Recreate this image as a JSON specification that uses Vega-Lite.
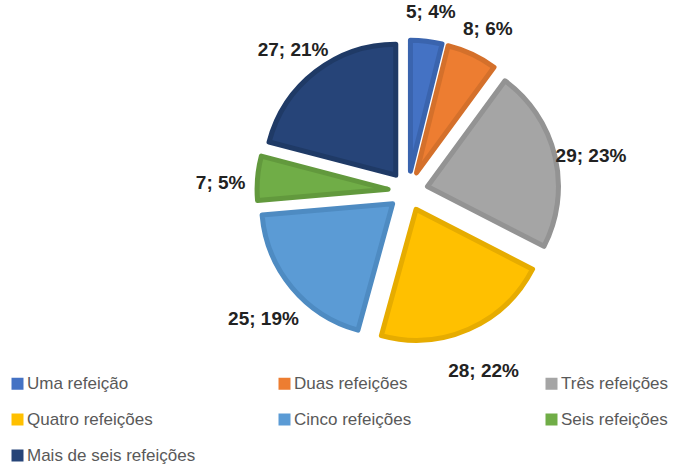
{
  "$schema": "https://vega.github.io/schema/vega-lite/v6.json",
  "width": 556,
  "height": 382,
  "autosize": {"type": "none"},
  "padding": {"left": 130, "top": 0, "right": 0, "bottom": 85},
  "background": "white",
  "config": {"view": {"stroke": null}},
  "data": {
    "values": [
      {"categoria": "Uma refeição", "valor": 5, "rotulo": "5; 4%"},
      {"categoria": "Duas refeições", "valor": 8, "rotulo": "8; 6%"},
      {"categoria": "Três refeições", "valor": 29, "rotulo": "29; 23%"},
      {"categoria": "Quatro refeições", "valor": 28, "rotulo": "28; 22%"},
      {"categoria": "Cinco refeições", "valor": 25, "rotulo": "25; 19%"},
      {"categoria": "Seis refeições", "valor": 7, "rotulo": "7; 5%"},
      {"categoria": "Mais de seis refeições", "valor": 27, "rotulo": "27; 21%"}
    ]
  },
  "transform": [
    {"window": [{"op": "sum", "field": "valor", "as": "acum"}], "frame": [null, 0]},
    {"joinaggregate": [{"op": "sum", "field": "valor", "as": "total"}]},
    {"calculate": "2*PI*(datum.acum - datum.valor)/datum.total", "as": "a0"},
    {"calculate": "2*PI*datum.acum/datum.total", "as": "a1"},
    {"calculate": "(datum.a0 + datum.a1)/2", "as": "am"},
    {"calculate": "20*sin(datum.am)", "as": "ex"},
    {"calculate": "20*cos(datum.am)", "as": "ey"}
  ],
  "encoding": {
    "x": {"field": "ex", "type": "quantitative", "scale": {"domain": [-278, 278], "nice": false, "zero": false}, "axis": null},
    "y": {"field": "ey", "type": "quantitative", "scale": {"domain": [-191, 191], "nice": false, "zero": false}, "axis": null}
  },
  "layer": [
    {
      "mark": {"type": "arc", "outerRadius": 131, "strokeWidth": 5, "strokeJoin": "round"},
      "encoding": {
        "theta": {"field": "a0", "type": "quantitative", "scale": null, "stack": null},
        "theta2": {"field": "a1"},
        "color": {
          "field": "categoria",
          "type": "nominal",
          "sort": null,
          "scale": {
            "domain": ["Uma refeição", "Duas refeições", "Três refeições", "Quatro refeições", "Cinco refeições", "Seis refeições", "Mais de seis refeições"],
            "range": ["#4472C4", "#ED7D31", "#A5A5A5", "#FFC000", "#5B9BD5", "#70AD47", "#264478"]
          },
          "legend": {
            "title": null,
            "orient": "none",
            "legendX": -121,
            "legendY": 375,
            "direction": "horizontal",
            "columns": 3,
            "gridAlign": "all",
            "columnPadding": 80,
            "rowPadding": 18,
            "symbolType": "square",
            "symbolSize": 144,
            "symbolStrokeWidth": 0,
            "symbolOpacity": 1,
            "labelFont": "Liberation Sans",
            "labelFontSize": 17,
            "labelColor": "#595959",
            "labelOffset": 1,
            "labelLimit": 400,
            "padding": 0
          }
        },
        "stroke": {
          "field": "categoria",
          "type": "nominal",
          "sort": null,
          "scale": {
            "domain": ["Uma refeição", "Duas refeições", "Três refeições", "Quatro refeições", "Cinco refeições", "Seis refeições", "Mais de seis refeições"],
            "range": ["#3A64AE", "#D4702B", "#939393", "#E6AC00", "#4E8BC2", "#62993D", "#1F3A66"]
          },
          "legend": null
        }
      }
    },
    {
      "mark": {"type": "text", "radius": 168, "dy": 8, "font": "Liberation Sans", "fontWeight": "bold", "fontSize": 19, "color": "#222222"},
      "encoding": {
        "theta": {"field": "am", "type": "quantitative", "scale": null, "stack": null},
        "text": {"field": "rotulo", "type": "nominal"}
      }
    }
  ]
}
